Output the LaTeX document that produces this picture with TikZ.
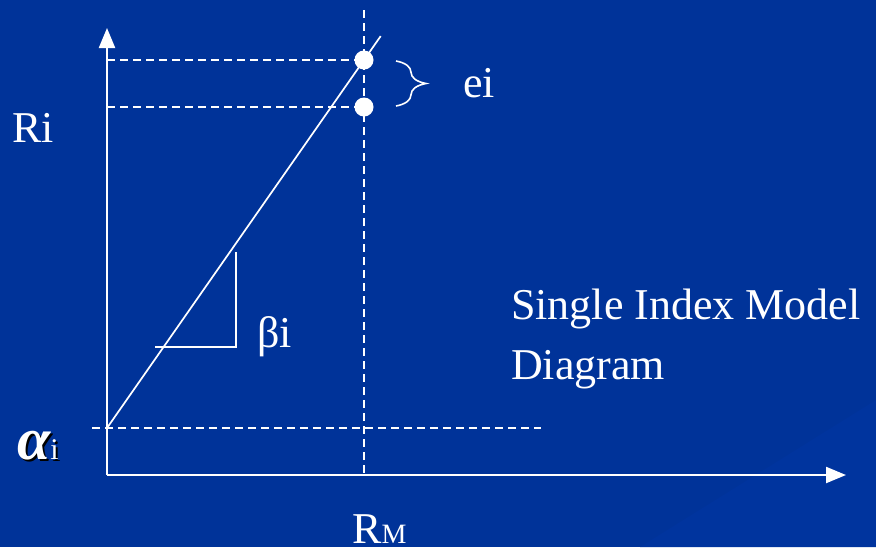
\documentclass[tikz,border=0pt]{standalone}
\usepackage{fontspec}
\setmainfont{Liberation Serif}
\usepackage{tikz}
\usetikzlibrary{arrows.meta, positioning, calc, decorations.pathreplacing}

\definecolor{slideblue}{HTML}{003399}
\definecolor{bandblue}{HTML}{00349E}

\newcommand{\alphatext}{{\fontsize{60}{62}\selectfont\bfseries\itshape α}{\fontsize{30}{32}\selectfont i}}

\begin{document}
\begin{tikzpicture}[
      x=1pt, y=-1pt,
      font=\fontsize{44}{60}\selectfont,
      axis/.style={
          draw=white,
          line width=2.2pt,
          -{Triangle[length=20pt, width=16pt]}
      },
      guide/.style={
          draw=white,
          line width=1.4pt,
          dash pattern=on 8pt off 5pt
      },
      fitline/.style={
          draw=white,
          line width=1.7pt
      },
      dot/.style={
          circle,
          fill=white,
          inner sep=0pt,
          minimum size=19pt
      },
      lbl/.style={
          text=white,
          inner sep=0pt
      }
  ]
      % --- Background ---
      \fill[slideblue] (0,0) rectangle (876,547);
      \fill[bandblue] (640,547) -- (876,400) -- (876,547) -- cycle;
      \useasboundingbox (0,0) rectangle (876,547);

      % --- Axes ---
      \coordinate (orig) at (107,475);
      \coordinate (ytip) at (107,28);
      \coordinate (xtip) at (846,475);
      \draw[axis] (orig) -- (ytip);
      \draw[axis] (orig) -- (xtip);

      % --- Points ---
      \coordinate (alpha0) at (107,428);
      \node[dot] (actual) at (364,60) {};
      \node[dot] (fitted) at (364,107) {};
      \coordinate (lineend) at ($(alpha0)!1.065!(actual.center)$);

      % --- Guides ---
      \coordinate (vtop) at (364,10);
      \coordinate (vbot) at (364,475);
      \coordinate (hleft) at (92,428);
      \coordinate (hright) at (541,428);
      \draw[guide] (vtop) -- (vbot);
      \draw[guide] (hleft) -- (hright);
      \draw[guide] (actual.center -| orig) -- (actual.center);
      \draw[guide] (fitted.center -| orig) -- (fitted.center);

      % --- Regression line ---
      \draw[fitline] (alpha0) -- (lineend);

      % --- Slope triangle ---
      \coordinate (tri1) at (155,347);
      \coordinate (tri2) at (236,347);
      \coordinate (tri3) at (236,252);
      \draw[fitline] (tri1) -- (tri2) -- (tri3);

      % --- Error brace ---
      \draw[white, line width=1.6pt, decorate,
            decoration={brace, amplitude=30pt, aspect=0.5}]
          (396,61) -- (396,106);

      % --- Labels ---
      \node[lbl, anchor=base west] (ei) at (463,97) {ei};
      \node[lbl, anchor=base west] (ri) at (12,142) {Ri};
      \node[lbl, anchor=base west] (beta) at (257,347) {βi};
      \node[lbl, anchor=base west] (rm) at (352,543) {R{\fontsize{28}{30}\selectfont M}};
      \node[text=black, inner sep=0pt, anchor=base west] (ashadow) at (19,461) {\alphatext};
      \node[lbl, anchor=base west] (alphalbl) at (17,459) {\alphatext};
      \node[lbl, anchor=base west, align=left] (title) at (511,379) {Single Index Model\\Diagram};

  \end{tikzpicture}
\end{document}
